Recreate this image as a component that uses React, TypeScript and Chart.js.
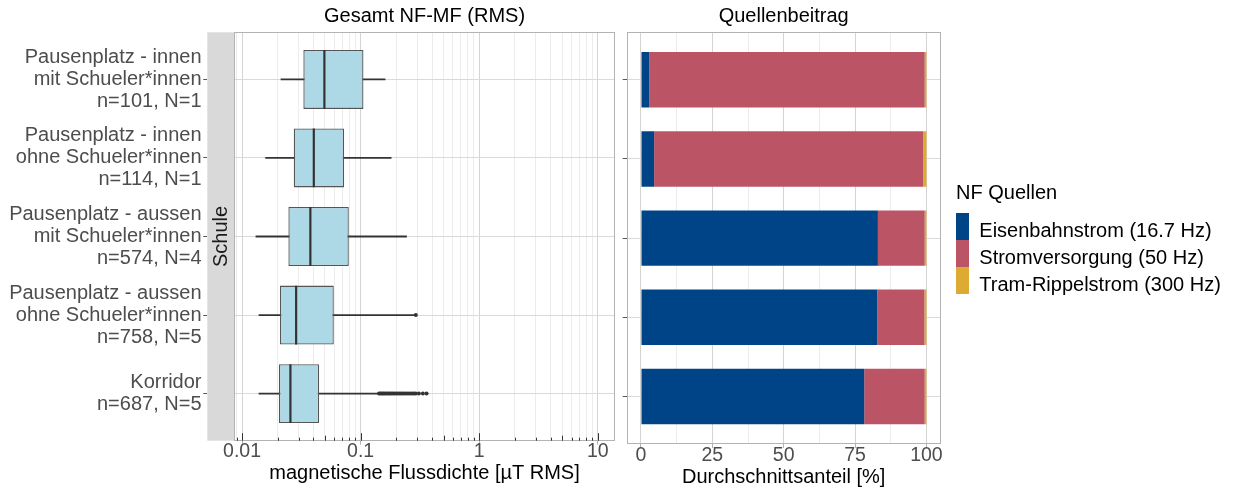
import React, { useEffect, useRef } from 'react';
import { Chart, registerables } from 'chart.js';

Chart.register(...registerables);

const FONT_FAMILY = "'Liberation Sans', Arial, Helvetica, sans-serif";
Chart.defaults.font.family = FONT_FAMILY;

// ---------------- data ----------------
const categoryLabels: string[][] = [
  ['Pausenplatz - innen', 'mit Schueler*innen', 'n=101, N=1'],
  ['Pausenplatz - innen', 'ohne Schueler*innen', 'n=114, N=1'],
  ['Pausenplatz - aussen', 'mit Schueler*innen', 'n=574, N=4'],
  ['Pausenplatz - aussen', 'ohne Schueler*innen', 'n=758, N=5'],
  ['Korridor', 'n=687, N=5'],
];
const categoryIndex = [0, 1, 2, 3, 4];

// boxplot statistics (µT RMS)
const whiskerLow = [0.0213, 0.0158, 0.0131, 0.0139, 0.0139];
const boxQ1 = [0.0329, 0.0273, 0.0246, 0.0209, 0.0205];
const boxMedian = [0.0495, 0.0403, 0.0377, 0.0286, 0.0256];
const boxQ3 = [0.1057, 0.0726, 0.0795, 0.0594, 0.0447];
const whiskerHigh = [0.161, 0.181, 0.244, 0.28, 0.141];

// outliers
const outliersAussenOhne = [0.292];
const outliersKorridor = [
  0.143, 0.147, 0.151, 0.155, 0.159, 0.164, 0.169, 0.174, 0.179, 0.185,
  0.191, 0.197, 0.204, 0.211, 0.218, 0.226, 0.234, 0.243, 0.252, 0.262,
  0.272, 0.282, 0.292, 0.31, 0.335, 0.36,
];

// Quellenbeitrag (%)
const sourceNames = ['Eisenbahnstrom (16.7 Hz)', 'Stromversorgung (50 Hz)', 'Tram-Rippelstrom (300 Hz)'];
const shareEisenbahn = [2.9, 4.6, 83.0, 82.8, 78.2];
const shareStrom = [96.5, 94.2, 16.4, 16.5, 21.2];
const shareTram = [0.6, 1.2, 0.6, 0.7, 0.6];
const sourceColors = ['#004488', '#BB5566', '#DDAA33'];

// ticks
const logMajorTicks = [0.01, 0.1, 1, 10];
const logMajorLabels = ['0.01', '0.1', '1', '10'];
const logMantissas = [1, 2, 3, 4, 5, 6, 7, 8, 9];
const logDecades = [-3, -2, -1, 0, 1];
const shareMajorTicks = [0, 25, 50, 75, 100];
const shareGridTicks = [0, 12.5, 25, 37.5, 50, 62.5, 75, 87.5, 100];

const X_MIN = 0.00856;
const X_MAX = 13.96;

const leftGridValues: number[] = [];
logDecades.forEach((d) =>
  logMantissas.forEach((m) => {
    const v = m * Math.pow(10, d);
    if (v >= X_MIN && v <= X_MAX) leftGridValues.push(v);
  })
);

const isLogMajor = (v: number) => logMajorTicks.some((t) => Math.abs(v - t) / t < 1e-6);
const logLabel = (v: number) => {
  const i = logMajorTicks.findIndex((t) => Math.abs(v - t) / t < 1e-6);
  return i >= 0 ? logMajorLabels[i] : '';
};
const isShareMajor = (v: number) => shareMajorTicks.includes(v);

// legend swatch: coloured key at the top, transparent strip below so that the
// label text sits slightly below the key centre (as in the reference)
function makeSwatch(color: string) {
  const c = document.createElement('canvas');
  c.width = 13;
  c.height = 36;
  const g = c.getContext('2d') as CanvasRenderingContext2D;
  g.fillStyle = color;
  g.fillRect(0, 0, 13, 27);
  return c;
}

// ---------------- plugins ----------------
const panelBorder = {
  id: 'panelBorder',
  afterDatasetsDraw(chart: any) {
    const { ctx, chartArea: a } = chart;
    ctx.save();
    ctx.strokeStyle = '#B3B3B3';
    ctx.lineWidth = 1;
    const l = Math.round(a.left) + 0.5;
    const t = Math.round(a.top) + 0.5;
    const r = Math.round(a.right) - 0.5;
    const b = Math.round(a.bottom) - 0.5;
    ctx.strokeRect(l, t, r - l, b - t);
    ctx.restore();
  },
};

const logTicksPlugin = {
  id: 'logTicks',
  afterDatasetsDraw(chart: any) {
    const xs = chart.scales.x;
    const { ctx, chartArea: a } = chart;
    ctx.save();
    ctx.strokeStyle = '#333333';
    ctx.lineWidth = 1;
    logDecades.forEach((d) =>
      logMantissas.forEach((m) => {
        const v = m * Math.pow(10, d);
        if (v < xs.min || v > xs.max) return;
        const px = Math.round(xs.getPixelForValue(v)) + 0.5;
        const len = m === 1 ? 7.5 : m === 5 ? 5 : 3;
        ctx.beginPath();
        ctx.moveTo(px, a.bottom);
        ctx.lineTo(px, a.bottom - len);
        ctx.stroke();
      })
    );
    ctx.restore();
  },
};

// ---------------- component ----------------
export default function App() {
  const leftRef = useRef<HTMLCanvasElement>(null);
  const rightRef = useRef<HTMLCanvasElement>(null);

  useEffect(() => {
    const outlierData = [
      ...outliersAussenOhne.map((v) => ({ x: v, y: 3 })),
      ...outliersKorridor.map((v) => ({ x: v, y: 4 })),
    ];

    const left = new Chart(leftRef.current as HTMLCanvasElement, {
      type: 'bar',
      data: {
        datasets: [
          {
            type: 'scatter',
            label: 'Median',
            data: categoryIndex.map((i) => ({ x: boxMedian[i], y: i })),
            pointStyle: 'line',
            pointRadius: 29.4,
            pointRotation: 90,
            pointBorderWidth: 2.2,
            pointBorderColor: '#333333',
            pointBackgroundColor: '#333333',
            xAxisID: 'x',
            yAxisID: 'y',
            order: 0,
          },
          {
            type: 'bar',
            label: 'Box',
            data: categoryIndex.map((i) => ({ x: [boxQ1[i], boxQ3[i]], y: i })),
            backgroundColor: '#ADD8E6',
            borderColor: '#555555',
            borderWidth: 1.3,
            borderSkipped: false,
            grouped: false,
            barPercentage: 0.75,
            categoryPercentage: 1,
            xAxisID: 'x',
            yAxisID: 'y',
            order: 1,
          },
          {
            type: 'scatter',
            label: 'Ausreisser',
            data: outlierData,
            pointRadius: 2,
            pointBorderWidth: 0,
            pointBackgroundColor: '#333333',
            xAxisID: 'x',
            yAxisID: 'y',
            order: 2,
          },
          {
            type: 'bar',
            label: 'Whisker',
            data: categoryIndex.map((i) => ({ x: [whiskerLow[i], whiskerHigh[i]], y: i })),
            backgroundColor: '#333333',
            borderWidth: 0,
            grouped: false,
            barThickness: 1.1,
            xAxisID: 'x',
            yAxisID: 'y',
            order: 3,
          },
        ] as any,
      },
      options: {
        responsive: false,
        animation: false,
        events: [],
        indexAxis: 'y',
        layout: { autoPadding: false, padding: { left: 0, right: 5, top: 0, bottom: 0 } },
        plugins: {
          legend: { display: false },
          tooltip: { enabled: false },
          title: {
            display: true,
            text: 'Gesamt NF-MF (RMS)',
            color: '#000000',
            font: { size: 20, weight: 'normal' },
            padding: { top: 4.7, bottom: 3.6 },
            fullSize: false,
          },
        },
        scales: {
          x: {
            type: 'logarithmic',
            position: 'bottom',
            min: X_MIN,
            max: X_MAX,
            offset: false,
            afterBuildTicks: (s: any) => {
              s.ticks = leftGridValues.map((v) => ({ value: v }));
            },
            grid: {
              offset: false,
              color: (c: any) => (c.tick && isLogMajor(c.tick.value) ? '#D4D4D4' : '#ECECEC'),
              tickColor: (c: any) => (c.tick && isLogMajor(c.tick.value) ? '#B3B3B3' : 'rgba(0,0,0,0)'),
              tickLength: 4,
              lineWidth: 1,
            },
            border: { display: false },
            ticks: {
              autoSkip: false,
              maxRotation: 0,
              minRotation: 0,
              color: '#4D4D4D',
              font: { size: 19.5 },
              padding: -4.7,
              callback: (v: any) => logLabel(Number(v)),
            },
            title: {
              display: true,
              text: 'magnetische Flussdichte [µT RMS]',
              color: '#000000',
              font: { size: 20 },
              padding: { top: 0, bottom: 5.5 },
            },
            afterFit: (s: any) => {
              s.height = 50.3;
            },
          },
          y: {
            type: 'linear',
            axis: 'y',
            position: 'left',
            weight: 1,
            min: -0.6,
            max: 4.6,
            reverse: true,
            offset: false,
            afterBuildTicks: (s: any) => {
              s.ticks = categoryIndex.map((v) => ({ value: v }));
            },
            grid: { offset: false, color: '#DADADA', tickColor: '#555555', tickLength: 4, lineWidth: 1 },
            border: { display: false },
            ticks: {
              color: '#4D4D4D',
              font: { size: 20, lineHeight: 1.1 },
              padding: 1.8,
              callback: (v: any) => categoryLabels[Number(v)] || '',
            },
            afterFit: (s: any) => {
              s.width = 207.3;
            },
          },
          ys: {
            type: 'linear',
            axis: 'y',
            position: 'left',
            weight: 0,
            min: 0,
            max: 1,
            offset: false,
            display: true,
            backgroundColor: '#D9D9D9',
            grid: { display: false },
            border: { display: false },
            ticks: { display: false },
            title: {
              display: true,
              text: 'Schule',
              color: '#1A1A1A',
              font: { size: 20 },
              padding: { top: 2.5, bottom: 0 },
            },
            afterFit: (s: any) => {
              s.width = 26.7;
            },
          },
        } as any,
      },
      plugins: [panelBorder, logTicksPlugin],
    } as any);

    const shares = [shareEisenbahn, shareStrom, shareTram];
    const swatches = sourceColors.map(makeSwatch);

    const right = new Chart(rightRef.current as HTMLCanvasElement, {
      type: 'bar',
      data: {
        datasets: sourceNames.map((name, k) => ({
          label: name,
          data: categoryIndex.map((i) => ({ x: shares[k][i], y: i })),
          backgroundColor: sourceColors[k],
          borderColor: sourceColors[k],
          borderWidth: 0,
          barPercentage: 0.7,
          categoryPercentage: 1,
          xAxisID: 'x',
          yAxisID: 'y',
        })) as any,
      },
      options: {
        responsive: false,
        animation: false,
        events: [],
        indexAxis: 'y',
        layout: { autoPadding: false, padding: { left: 0, right: 12, top: 0, bottom: 0 } },
        plugins: {
          tooltip: { enabled: false },
          title: {
            display: true,
            text: 'Quellenbeitrag',
            color: '#000000',
            font: { size: 20, weight: 'normal' },
            padding: { top: 4.7, bottom: 3.6 },
            fullSize: false,
          },
          legend: {
            display: true,
            position: 'right',
            align: 'start',
            maxWidth: 268,
            title: {
              display: true,
              text: 'NF Quellen',
              color: '#000000',
              font: { size: 20, weight: 'normal' },
              padding: { top: 183, bottom: 14 },
              position: 'start',
            },
            labels: {
              usePointStyle: true,
              boxWidth: 13.3,
              boxHeight: 27,
              padding: 0,
              color: '#000000',
              font: { size: 20, lineHeight: 1.35 },
              generateLabels: (chart: any) => {
                const items = (Chart as any).defaults.plugins.legend.labels.generateLabels(chart);
                items.forEach((it: any, k: number) => {
                  it.pointStyle = swatches[k];
                  it.text = [it.text];
                });
                return items;
              },
            },
          },
        },
        scales: {
          x: {
            type: 'linear',
            position: 'bottom',
            stacked: true,
            min: -5,
            max: 105,
            offset: false,
            afterBuildTicks: (s: any) => {
              s.ticks = shareGridTicks.map((v) => ({ value: v }));
            },
            grid: {
              offset: false,
              color: (c: any) => (c.tick && isShareMajor(c.tick.value) ? '#D4D4D4' : '#ECECEC'),
              tickColor: (c: any) => (c.tick && isShareMajor(c.tick.value) ? '#B3B3B3' : 'rgba(0,0,0,0)'),
              tickLength: 4,
              lineWidth: 1,
            },
            border: { display: false },
            ticks: {
              autoSkip: false,
              maxRotation: 0,
              minRotation: 0,
              color: '#4D4D4D',
              font: { size: 19.5 },
              padding: -3.9,
              callback: (v: any) => (isShareMajor(Number(v)) ? String(v) : ''),
            },
            title: {
              display: true,
              text: 'Durchschnittsanteil [%]',
              color: '#000000',
              font: { size: 20 },
              padding: { top: 0, bottom: 1.5 },
            },
            afterFit: (s: any) => {
              s.height = 47;
            },
          },
          y: {
            type: 'linear',
            axis: 'y',
            position: 'left',
            stacked: true,
            min: -0.6,
            max: 4.6,
            reverse: true,
            offset: false,
            afterBuildTicks: (s: any) => {
              s.ticks = categoryIndex.map((v) => ({ value: v }));
            },
            grid: { offset: false, color: '#DADADA', tickColor: '#555555', tickLength: 4, lineWidth: 1 },
            border: { display: false },
            ticks: { display: false },
            afterFit: (s: any) => {
              s.width = 6.7;
            },
          },
          yr: {
            type: 'linear',
            axis: 'y',
            position: 'right',
            display: true,
            min: 0,
            max: 1,
            offset: false,
            grid: { display: false },
            border: { display: false },
            ticks: { display: false },
            afterFit: (s: any) => {
              s.width = 15.3;
            },
          },
        } as any,
      },
      plugins: [panelBorder],
    } as any);

    return () => {
      left.destroy();
      right.destroy();
    };
  }, []);

  return (
    <div style={{ position: 'absolute', left: 0, top: 0, width: 1236, height: 491, background: '#ffffff' }}>
      <canvas
        ref={leftRef}
        width={620}
        height={491}
        style={{ position: 'absolute', left: 0, top: 0, width: 620, height: 491 }}
      />
      <canvas
        ref={rightRef}
        width={616}
        height={491}
        style={{ position: 'absolute', left: 620, top: 0, width: 616, height: 491 }}
      />
    </div>
  );
}
